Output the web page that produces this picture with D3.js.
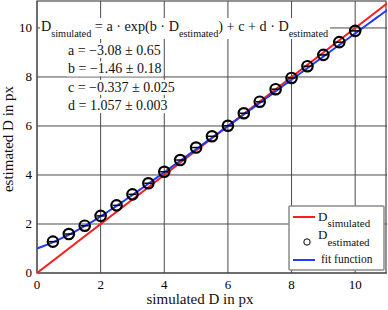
<!DOCTYPE html>
<html>
<head>
<meta charset="utf-8">
<script src="https://cdn.jsdelivr.net/npm/d3@7"></script>
<style>
  body { margin: 0; background: #fff; }
</style>
</head>
<body>
<div id="chart"></div>
<script>
// simulated D values and the estimated D read off the markers
const simulated = [0.5, 1, 1.5, 2, 2.5, 3, 3.5, 4, 4.5, 5, 5.5, 6, 6.5, 7, 7.5, 8, 8.5, 9, 9.5, 10];
const estimated = [1.28, 1.59, 1.93, 2.33, 2.76, 3.21, 3.66, 4.13, 4.61, 5.12, 5.58, 6.01, 6.52, 6.99, 7.5, 7.96, 8.44, 8.9, 9.42, 9.88];
const xTicks = [0, 2, 4, 6, 8, 10];
const yTicks = [0, 2, 4, 6, 8, 10];
// fit parameters as printed on the chart
const fitA = -3.08, fitB = -1.46, fitC = -0.337, fitD = 1.057;
const paramRows = ["a = \u22123.08 \u00b1 0.65", "b = \u22121.46 \u00b1 0.18", "c = \u22120.337 \u00b1 0.025", "d = 1.057 \u00b1 0.003"];
const fitRange = d3.range(0.9, 10.8, 0.05);

const FONT = "'Liberation Serif'";
const W = 388, H = 310;
const svg = d3.select("#chart").append("svg").attr("width", W).attr("height", H);

const x = d3.scaleLinear().domain([0, 11]).range([37, 387]);
const y = d3.scaleLinear().domain([0, 11.1]).range([273, 1]);
const gridCol = "#4a4a4a";

function txt(parent, size) {
  return parent.append("text").style("font-family", FONT).style("font-size", size + "px").attr("fill", "#111");
}

svg.append("clipPath").attr("id", "plotclip")
  .append("rect").attr("x", 37).attr("y", 1).attr("width", 350).attr("height", 272);

// grid
let grid = svg.append("g");
grid.selectAll(".vx").data(xTicks).join("line")
  .attr("x1", d => x(d)).attr("x2", d => x(d)).attr("y1", y(11.1)).attr("y2", y(0))
  .attr("stroke", gridCol).attr("stroke-width", 1);
grid.selectAll(".hy").data(yTicks).join("line")
  .attr("y1", d => y(d)).attr("y2", d => y(d)).attr("x1", x(0)).attr("x2", x(11))
  .attr("stroke", gridCol).attr("stroke-width", 1);
svg.append("rect").attr("x", 37).attr("y", 1).attr("width", 349).attr("height", 272)
  .attr("fill", "none").attr("stroke", gridCol).attr("stroke-width", 1.2);

// tick labels
svg.append("g").selectAll("text").data(xTicks).join("text")
  .attr("x", d => x(d)).attr("y", 289).attr("text-anchor", "middle")
  .style("font-family", FONT).style("font-size", "13px").text(d => d);
svg.append("g").selectAll("text").data(yTicks).join("text")
  .attr("x", 32).attr("y", d => y(d)).attr("dy", "0.33em").attr("text-anchor", "end")
  .style("font-family", FONT).style("font-size", "13px").text(d => d);

txt(svg, 15).attr("x", 200).attr("y", 304).attr("text-anchor", "middle").text("simulated D in px");
txt(svg, 15).attr("transform", "translate(13,139) rotate(-90)").attr("text-anchor", "middle")
  .text("estimated D in px");

// equation with white boxes behind each line
function boxed(sel) {
  const b = sel.node().getBBox();
  svg.insert("rect", () => sel.node())
    .attr("x", b.x - 1).attr("y", b.y).attr("width", b.width + 2).attr("height", b.height)
    .attr("fill", "#fff");
}
let eq = txt(svg, 14.2).attr("x", 41).attr("y", 31);
eq.append("tspan").text("D");
eq.append("tspan").attr("dy", 6).style("font-size", "10.3px").text("simulated");
eq.append("tspan").attr("dy", -6).text(" = a \u00b7 exp(b \u00b7 D");
eq.append("tspan").attr("dy", 6).style("font-size", "10.3px").text("estimated");
eq.append("tspan").attr("dy", -6).text(") + c + d \u00b7 D");
eq.append("tspan").attr("dy", 6).style("font-size", "10.3px").text("estimated");
// squeeze to the width seen in the reference
const eqW = eq.node().getComputedTextLength();
if (eqW > 290) eq.attr("textLength", 290).attr("lengthAdjust", "spacingAndGlyphs");
boxed(eq);

paramRows.forEach((r, i) => {
  let t = txt(svg, 14).attr("x", 68).attr("y", 55 + i * 18.4).text(r);
  boxed(t);
});

// curves
let plot = svg.append("g").attr("clip-path", "url(#plotclip)");
plot.append("path")
  .datum([0, 11.2])
  .attr("d", d3.line().x(d => x(d)).y(d => y(d)))
  .attr("fill", "none").attr("stroke", "#ff1c1c").attr("stroke-width", 2);
plot.append("path")
  .datum(fitRange)
  .attr("d", d3.line()
    .x(t => x(fitA * Math.exp(fitB * t) + fitC + fitD * t))
    .y(t => y(t)))
  .attr("fill", "none").attr("stroke", "#1f3cff").attr("stroke-width", 2);

// markers
let pts = svg.append("g").selectAll("g").data(simulated).join("g")
  .attr("transform", (d, i) => `translate(${x(d)},${y(estimated[i])})`);
pts.append("circle").attr("r", 5.2).attr("fill", "none").attr("stroke", "#000").attr("stroke-width", 2.2);
pts.append("line").attr("x1", -4).attr("x2", 4).attr("stroke", "#000").attr("stroke-width", 1.5);

// legend
let lg = svg.append("g");
lg.append("rect").attr("x", 289).attr("y", 206).attr("width", 95).attr("height", 64)
  .attr("fill", "#fff").attr("stroke", "#8a8a8a").attr("stroke-width", 1.5).attr("rx", 1);
lg.append("line").attr("x1", 293).attr("x2", 315).attr("y1", 217).attr("y2", 217)
  .attr("stroke", "#ff1c1c").attr("stroke-width", 2);
let l1 = txt(lg, 13).attr("x", 318).attr("y", 221);
l1.append("tspan").text("D");
l1.append("tspan").attr("dy", 6).style("font-size", "11px").text("simulated");
lg.append("circle").attr("cx", 307).attr("cy", 242).attr("r", 3.2)
  .attr("fill", "none").attr("stroke", "#000").attr("stroke-width", 1);
let l2 = txt(lg, 13).attr("x", 318).attr("y", 239);
l2.append("tspan").text("D");
l2.append("tspan").attr("dy", 7).style("font-size", "11px").text("estimated");
lg.append("line").attr("x1", 293).attr("x2", 315).attr("y1", 260).attr("y2", 260)
  .attr("stroke", "#1f3cff").attr("stroke-width", 2);
txt(lg, 11.5).attr("x", 321).attr("y", 263).text("fit function");
</script>
</body>
</html>
